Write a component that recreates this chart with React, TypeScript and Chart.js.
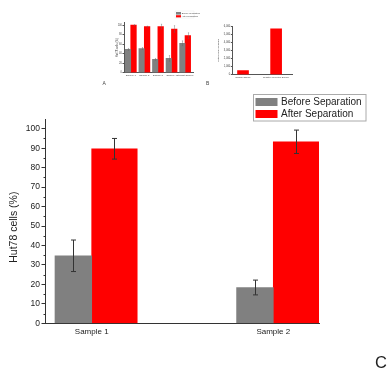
import React, { useEffect, useRef } from "react";
import { Chart, registerables } from "chart.js";
Chart.register(...registerables);

const FONT = "'Liberation Sans', Arial, Helvetica, sans-serif";
const W = 389;
const H = 370;

// ---- Main chart (C) ----
const categoriesC = ["Sample 1", "Sample 2"];
const beforeC = [34.7, 18.4];
const beforeErrC = [8.1, 3.8];
const afterC = [89.7, 93.3];
const afterErrC = [5.3, 6.0];
const seriesNames = ["Before Separation", "After Separation"];

// ---- Thumbnail A ----
const categoriesA = ["Sample 1", "Sample 2", "Sample 3", "Sample 4", "Straight Sample"];
const beforeA = [49, 51, 28, 30, 62];
const beforeErrA = [2, 2, 2, 6, 5];
const afterA = [100, 97, 97, 92, 78];
const afterErrA = [1, 1, 5, 7, 6];
const seriesNamesA = ["Before separation", "After separation"];

// ---- Thumbnail B ----
const categoriesB = ["Original Sample", "Negative Selection Sample"];
const valuesB = [500, 5650];

const GRAY = "#808080";
const RED = "#ff0000";

const errorBarPlugin = {
  id: "errorBars",
  afterDatasetsDraw(chart: any, _args: any, opts: any) {
    const ctx = chart.ctx;
    const y = chart.scales.y;
    ctx.save();
    ctx.strokeStyle = opts.color || "#333";
    ctx.lineWidth = opts.width || 1;
    const cap = opts.cap || 5;
    chart.data.datasets.forEach((ds: any, d: number) => {
      if (!ds.errors) return;
      const meta = chart.getDatasetMeta(d);
      meta.data.forEach((el: any, i: number) => {
        const v = ds.data[i].y;
        const e = ds.errors[i];
        const top = y.getPixelForValue(v + e);
        const bot = y.getPixelForValue(v - e);
        const x = Math.round(el.x) + 0.5;
        ctx.beginPath();
        ctx.moveTo(x, top);
        ctx.lineTo(x, bot);
        ctx.moveTo(x - cap / 2, top);
        ctx.lineTo(x + cap / 2, top);
        ctx.moveTo(x - cap / 2, bot);
        ctx.lineTo(x + cap / 2, bot);
        ctx.stroke();
      });
    });
    ctx.restore();
  },
};

const minorTickPlugin = {
  id: "minorTicks",
  afterDraw(chart: any, _args: any, opts: any) {
    if (!opts || !opts.values) return;
    const y = chart.scales.y;
    const ctx = chart.ctx;
    ctx.save();
    ctx.strokeStyle = opts.color || "#333";
    ctx.lineWidth = 1;
    opts.values.forEach((v: number) => {
      const py = Math.round(y.getPixelForValue(v)) + 0.5;
      ctx.beginPath();
      ctx.moveTo(y.right - opts.length, py);
      ctx.lineTo(y.right, py);
      ctx.stroke();
    });
    ctx.restore();
  },
};

// y-axis title drawn at a set spot beside the y scale (used when the title sits off-centre)
const sideTitlePlugin = {
  id: "sideTitle",
  afterDraw(chart: any, _args: any, opts: any) {
    if (!opts || !opts.text) return;
    const ctx = chart.ctx;
    const y = chart.scales.y;
    ctx.save();
    ctx.translate(opts.x, (y.top + y.bottom) / 2 + opts.shift);
    ctx.rotate(-Math.PI / 2);
    ctx.font = `${opts.fontSize}px ${FONT}`;
    ctx.fillStyle = opts.color;
    ctx.textAlign = "center";
    ctx.textBaseline = "middle";
    ctx.fillText(opts.text, 0, 0);
    ctx.restore();
  },
};

const boxLegendPlugin = {
  id: "boxLegend",
  afterDraw(chart: any, _args: any, opts: any) {
    if (!opts || !opts.box) return;
    const ctx = chart.ctx;
    ctx.save();
    const b = opts.box;
    ctx.strokeStyle = opts.borderColor;
    ctx.lineWidth = opts.borderWidth;
    ctx.strokeRect(b[0], b[1], b[2], b[3]);
    ctx.font = `${opts.fontSize}px ${FONT}`;
    ctx.textBaseline = "middle";
    ctx.textAlign = "left";
    chart.data.datasets.forEach((ds: any, i: number) => {
      const r = opts.rows[i];
      ctx.fillStyle = ds.backgroundColor;
      ctx.fillRect(opts.swX, r[0], opts.swW, r[1]);
      ctx.fillStyle = opts.textColor;
      ctx.fillText(ds.label, opts.textX, r[0] + r[1] / 2);
    });
    ctx.restore();
  },
};

function buildConfig(spec: any) {
  const b = spec.box;
  return {
    type: "bar",
    data: {
      datasets: spec.datasets.map((d: any) => ({
        label: d.label,
        data: d.values.map((v: number, i: number) => ({ x: i + 1, y: v })),
        errors: d.errors,
        backgroundColor: d.color,
        borderWidth: 0,
        barThickness: d.thickness,
      })),
    },
    options: {
      responsive: false,
      animation: false,
      devicePixelRatio: 1,
      layout: { padding: { left: 0, top: b.top, right: W - b.right, bottom: 0 } },
      plugins: {
        legend: { display: false },
        tooltip: { enabled: false },
        errorBars: spec.errorBars,
        minorTicks: spec.minorTicks || {},
        boxLegend: spec.legend || {},
        sideTitle: spec.sideTitle
          ? {
              text: spec.yTitle,
              x: spec.titleX,
              shift: spec.sideTitle.shift,
              fontSize: spec.titleFont,
              color: spec.textColor,
            }
          : {},
      },
      scales: {
        x: {
          type: "linear",
          min: spec.xMin,
          max: spec.xMax,
          offset: false,
          grid: { display: true, drawOnChartArea: false, drawTicks: false, offset: false },
          border: { display: true, color: spec.axisColor, width: 1 },
          afterFit: (s: any) => {
            s.height = H - b.bottom;
          },
          afterBuildTicks: (s: any) => {
            s.ticks = spec.categories.map((_c: string, i: number) => ({ value: i + 1 }));
          },
          ticks: {
            autoSkip: false,
            maxRotation: 0,
            padding: spec.xTickPadding,
            color: spec.textColor,
            font: { family: FONT, size: spec.xFont },
            callback: (_v: any, i: number) => spec.categories[i],
          },
        },
        y: {
          min: 0,
          max: spec.yMax,
          grid: {
            display: true,
            drawOnChartArea: false,
            drawTicks: true,
            tickLength: spec.tickLength,
            color: spec.axisColor,
          },
          border: { display: true, color: spec.axisColor, width: 1 },
          afterFit: (s: any) => {
            s.width = b.left;
          },
          ticks: {
            stepSize: spec.yStep,
            includeBounds: false,
            padding: spec.yTickPadding,
            color: spec.textColor,
            font: { family: FONT, size: spec.yFont },
          },
          title: {
            display: !spec.sideTitle,
            text: spec.yTitle,
            color: spec.textColor,
            font: { family: FONT, size: spec.titleFont },
            padding: { top: spec.titleX - (spec.titleFont * 1.2) / 2, bottom: 0 },
          },
        },
      },
    },
    plugins: [errorBarPlugin, minorTickPlugin, boxLegendPlugin, sideTitlePlugin],
  };
}

const specC = {
  box: { left: 45.5, right: 319, top: 119, bottom: 323.3 },
  categories: categoriesC,
  xMin: 0.7456,
  xMax: 2.2517,
  yMax: 105,
  yStep: 10,
  yFont: 8.5,
  xFont: 8,
  xTickPadding: 4,
  yTickPadding: 1.5,
  tickLength: 4,
  titleFont: 10.5,
  titleX: 14,
  yTitle: "Hut78 cells (%)",
  sideTitle: { shift: 6 },
  axisColor: "#333",
  textColor: "#222",
  datasets: [
    { label: seriesNames[0], values: beforeC, errors: beforeErrC, color: GRAY, thickness: 36.7 },
    { label: seriesNames[1], values: afterC, errors: afterErrC, color: RED, thickness: 45.5 },
  ],
  errorBars: { color: "#333", width: 1, cap: 5 },
  minorTicks: { values: [5, 15, 25, 35, 45, 55, 65, 75, 85, 95], length: 2, color: "#333" },
  legend: {
    box: [253.5, 94.5, 112.5, 26.5],
    borderColor: "#aaa",
    borderWidth: 1,
    fontSize: 10,
    textColor: "#222",
    swX: 255.5,
    swW: 22,
    rows: [
      [98, 8],
      [110, 8],
    ],
    textX: 281,
  },
};

const specA = {
  box: { left: 124, right: 193.3, top: 22.8, bottom: 72.7 },
  categories: categoriesA,
  xMin: 0.504,
  xMax: 5.61,
  yMax: 105,
  yStep: 20,
  yFont: 2.6,
  xFont: 2.4,
  xTickPadding: 1.5,
  yTickPadding: 0.5,
  tickLength: 1.5,
  titleFont: 2.8,
  titleX: 117.5,
  yTitle: "Hut78 cells (%)",
  axisColor: "#555",
  textColor: "#444",
  datasets: [
    { label: seriesNamesA[0], values: beforeA, errors: beforeErrA, color: GRAY, thickness: 5.4 },
    { label: seriesNamesA[1], values: afterA, errors: afterErrA, color: RED, thickness: 5.6 },
  ],
  errorBars: { color: "#666", width: 0.4, cap: 1.2 },
  legend: {
    box: [175, 11, 19, 7],
    borderColor: "#ddd",
    borderWidth: 0.3,
    fontSize: 2.3,
    textColor: "#444",
    swX: 176,
    swW: 5,
    rows: [
      [12, 2.6],
      [15.2, 2.2],
    ],
    textX: 181.8,
  },
};

const specB = {
  box: { left: 232.3, right: 292, top: 26, bottom: 74.7 },
  categories: categoriesB,
  xMin: 0.676,
  xMax: 2.48,
  yMax: 6000,
  yStep: 1000,
  yFont: 2.6,
  xFont: 2.2,
  xTickPadding: 1.5,
  yTickPadding: 0.5,
  tickLength: 1.5,
  titleFont: 2.5,
  titleX: 218,
  yTitle: "Hut78 cells (cells/ml)",
  axisColor: "#555",
  textColor: "#444",
  datasets: [{ label: "Hut78", values: valuesB, color: RED, thickness: 11 }],
  errorBars: { color: "#666", width: 0.4, cap: 1.2 },
};

function ChartCanvas({ spec }: { spec: any }) {
  const ref = useRef<HTMLCanvasElement | null>(null);
  useEffect(() => {
    if (!ref.current) return;
    const chart = new Chart(ref.current, buildConfig(spec) as any);
    return () => chart.destroy();
  }, [spec]);
  return (
    <canvas
      ref={ref}
      width={W}
      height={H}
      style={{ position: "absolute", left: 0, top: 0, width: W, height: H }}
    />
  );
}

export default function App() {
  return (
    <div
      style={{
        position: "absolute",
        left: 0,
        top: 0,
        width: W,
        height: H,
        overflow: "hidden",
        background: "#fff",
        fontFamily: FONT,
      }}
    >
      <ChartCanvas spec={specA} />
      <ChartCanvas spec={specB} />
      <ChartCanvas spec={specC} />
      <div style={{ position: "absolute", left: 102.5, top: 81, fontSize: 5, lineHeight: "5px", color: "#444" }}>A</div>
      <div style={{ position: "absolute", left: 206, top: 81, fontSize: 5, lineHeight: "5px", color: "#444" }}>B</div>
      <div style={{ position: "absolute", left: 375, top: 354, fontSize: 16.5, lineHeight: "16px", color: "#222" }}>C</div>
    </div>
  );
}
